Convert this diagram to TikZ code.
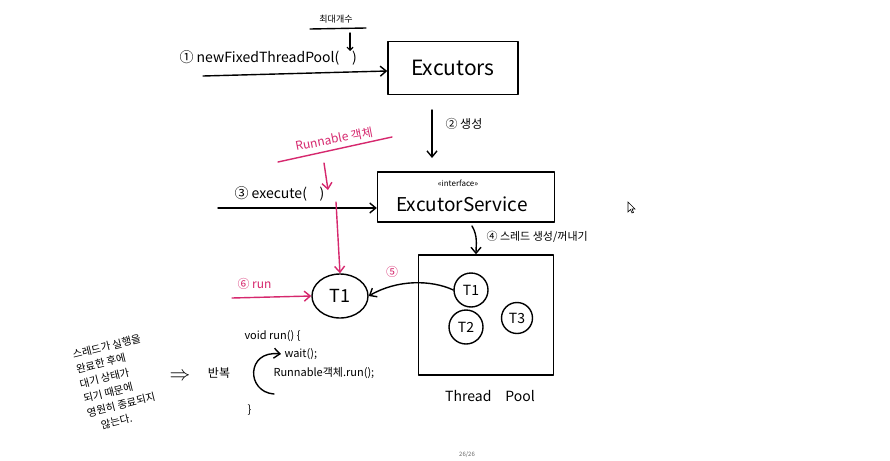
\documentclass[tikz,border=0pt]{standalone}
\usepackage{fontspec}
\usepackage{graphicx}
\setmainfont{Noto Sans CJK KR}
\usetikzlibrary{arrows.meta,shapes.geometric}
\definecolor{mag}{RGB}{214,40,110}
\tikzset{
  hand/.style={line width=1.4pt, line cap=round, line join=round},
  arr/.style={hand, -{Straight Barb[length=6pt,width=10pt,line width=1.4pt]}},
  boxed/.style={draw, hand, inner sep=0pt},
  pinkarr/.style={arr, draw=mag},
  tcirc/.style={draw, hand, circle, inner sep=0pt, font=\fontsize{14}{14}\selectfont},
}
\begin{document}
\begin{tikzpicture}[x=1pt,y=-1pt]
\useasboundingbox (0,0) rectangle (890,460);
\fill[white] (0,0) rectangle (890,460);

% top: newFixedThreadPool -> Executors
\node[font=\fontsize{9}{9}\selectfont] (maxc) at (336,19) {최대개수};
\coordinate (ul1) at (310,29);
\coordinate (ul2) at (366,28);
\draw[hand] (ul1) -- (ul2);
\node[font=\fontsize{14}{14}\selectfont, anchor=west] (newf) at (176,58) {① newFixedThreadPool(\hspace{0.9em})};
\coordinate (maxa) at (350,33);
\coordinate (maxb) at (350,51);
\draw[hand, -{Straight Barb[length=3pt,width=6pt,line width=1.2pt]}] (maxa) -- (maxb);

\node[boxed, minimum width=130, minimum height=53, font=\fontsize{21}{21}\selectfont] (exec) at (453,68) {Excutors};
\coordinate (newstart) at (203,76);
\draw[arr] (newstart) -- (exec.west |- 0,71);

% Executors -> ExecutorService
\coordinate (e2a) at (432,110);
\coordinate (e2b) at (432,158);
\draw[arr] (e2a) -- (e2b);
\node[font=\fontsize{12}{12}\selectfont, anchor=west] (lbl2) at (442,124) {② 생성};

\node[boxed, minimum width=177, minimum height=50] (es) at (466,197) {};
\node[font=\fontsize{8}{8}\selectfont] (iface) at (458,183) {«interface»};
\node[font=\fontsize{19}{19}\selectfont] (esname) at (462,204) {ExcutorService};

% execute
\node[font=\fontsize{14}{14}\selectfont, anchor=west] (exe) at (231,194) {③ execute(\hspace{0.9em})};
\coordinate (exstart) at (218,208);
\draw[arr] (exstart) -- (es.west |- 0,208);

% Runnable object
\node[text=mag, font=\fontsize{12}{12}\selectfont] (runobj) at (334,139) {\rotatebox{11}{Runnable 객체}};
\coordinate (ru1) at (278,162);
\coordinate (ru2) at (392,137);
\draw[hand, mag] (ru1) -- (ru2);
\coordinate (rdown) at (324,163);
\coordinate (rparen) at (328,190);
\draw[pinkarr] (rdown) -- (rparen);

% big T1
\node[draw, hand, ellipse, minimum width=56, minimum height=44, inner sep=0pt, font=\fontsize{18}{18}\selectfont] (t1) at (340,296) {T1};
\coordinate (rline) at (336,202);
\draw[pinkarr] (rline) -- (t1.north);

% run
\node[text=mag, font=\fontsize{12}{12}\selectfont, anchor=west] (runl) at (234,284) {⑥ run};
\coordinate (runstart) at (232,298);
\draw[pinkarr] (runstart) -- (t1.west);

% ExecutorService -> Thread Pool
\node[boxed, minimum width=135, minimum height=120] (pool) at (486,315) {};
\coordinate (e4a) at (472,226);
\draw[arr] (e4a) .. controls (478,236) and (476,245) .. (pool.north -| 476,0);
\node[font=\fontsize{11}{11}\selectfont, anchor=west] (lbl4) at (483,237) {④ 스레드 생성/꺼내기};
\node[font=\fontsize{14}{14}\selectfont] (tpool) at (490,396) {Thread\quad Pool};

\node[tcirc, minimum size=34] (p1) at (471,290) {T1};
\node[tcirc, minimum size=34] (p2) at (466,327) {T2};
\node[tcirc, minimum size=31] (p3) at (517,318) {T3};

% 5
\draw[arr] (p1.west) .. controls (432,280) and (398,279) .. (t1.east);
\node[text=mag, font=\fontsize{12}{12}\selectfont] (lbl5) at (392,272) {⑤};

% code
\node[font=\fontsize{11}{11}\selectfont, anchor=west] (c1) at (241,336) {void run() \{};
\node[font=\fontsize{11}{11}\selectfont, anchor=west] (c2) at (281,354) {wait();};
\node[font=\fontsize{11}{11}\selectfont, anchor=west] (c3) at (270,373) {Runnable객체.run();};
\node[font=\fontsize{11}{11}\selectfont, anchor=west] (c4) at (244,410) {\}};
\coordinate (loopst) at (274,394);
\draw[arr] (loopst) .. controls (246,392) and (246,350) .. (c2.west);

\node[font=\fontsize{12}{12}\selectfont] (rep) at (219,373) {반복};
\node[font=\fontsize{22}{22}\selectfont] (impl) at (180,377) {$\Rightarrow$};

\node[font=\fontsize{10.5}{15}\selectfont] (note) at (116,384)
  {\rotatebox{14}{\begin{tabular}{@{}l@{}}스레드가 실행을\\완료한 후에\\대기 상태가\\되기 때문에\\영원히 종료되지\\\quad 않는다.\end{tabular}}};

% cursor
\draw[line width=0.6pt, fill=white] (628,202) -- (628,212) -- (630.5,209.5) -- (632,213) -- (633.5,212.3) -- (632,209) -- (635,209) -- cycle;

\node[text=black!60, font=\fontsize{6}{6}\selectfont] (page) at (467,455) {26/26};
\end{tikzpicture}
\end{document}
